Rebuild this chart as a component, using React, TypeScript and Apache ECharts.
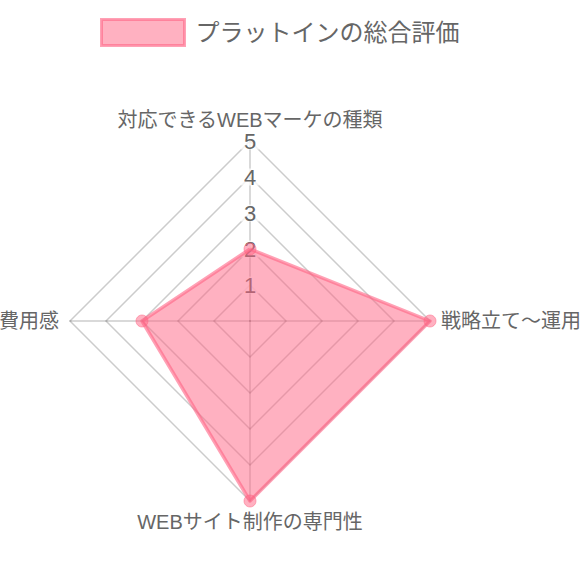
import React, { useEffect, useRef } from "react";
import * as echarts from "echarts";

const indicatorNames = [
  "対応できるWEBマーケの種類",
  "費用感",
  "WEBサイト制作の専門性",
  "戦略立て〜運用",
];
const seriesName = "プラットインの総合評価";
const seriesValues = [2, 3, 5, 5];
const maxValue = 5;

const FONT = "'Liberation Sans', Arial, 'Noto Sans CJK JP', sans-serif";
const PINK = "rgba(255,99,132,0.5)";
const PINK_LINE = "rgba(255,99,132,0.6)";
const GRID = "rgba(0,0,0,0.2)";

export default function App() {
  const ref = useRef<HTMLDivElement>(null);
  useEffect(() => {
    if (!ref.current) return;
    const chart = echarts.init(ref.current, undefined, { renderer: "svg" });
    chart.setOption({
      animation: false,
      textStyle: { fontFamily: FONT },
      legend: {
        left: 95,
        top: 13,
        icon: "rect",
        itemWidth: 83,
        itemHeight: 26,
        itemStyle: { color: PINK, borderColor: PINK_LINE, borderWidth: 3 },
        textStyle: {
          fontSize: 24,
          color: "#666",
          fontFamily: FONT,
          padding: [0, 0, 0, 6],
        },
        data: [seriesName],
      },
      radar: {
        center: [250, 321],
        radius: 180,
        startAngle: 90,
        shape: "polygon",
        splitNumber: 5,
        axisName: { color: "#666", fontSize: 20, fontFamily: FONT },
        nameGap: 11,
        splitLine: { lineStyle: { color: GRID, width: 1.5 } },
        splitArea: { show: false },
        axisLine: { lineStyle: { color: GRID, width: 1.5 } },
        axisTick: { show: false },
        axisLabel: { show: false },
        indicator: indicatorNames.map((name, i) => ({
          name,
          min: 0,
          max: maxValue,
          axisLabel:
            i === 0
              ? {
                  show: true,
                  margin: 0,
                  align: "center",
                  verticalAlign: "middle",
                  color: "#666",
                  fontSize: 22,
                  lineHeight: 17,
                  fontFamily: FONT,
                  showMinLabel: false,
                  backgroundColor: "rgba(255,255,255,0.75)",
                  padding: [0, 3],
                  formatter: (v: number) => (v === 0 ? "" : String(v)),
                }
              : { show: false },
        })),
      },
      series: [
        {
          type: "radar",
          name: seriesName,
          symbol: "circle",
          symbolSize: 12,
          itemStyle: { color: PINK, borderColor: PINK, borderWidth: 1 },
          lineStyle: { color: PINK_LINE, width: 3.5 },
          areaStyle: { color: PINK, opacity: 1 },
          data: [{ name: seriesName, value: seriesValues }],
        },
      ],
    });
    return () => chart.dispose();
  }, []);
  return (
    <div
      ref={ref}
      style={{ position: "fixed", left: 0, top: 0, width: 580, height: 580, background: "#fff" }}
    />
  );
}
